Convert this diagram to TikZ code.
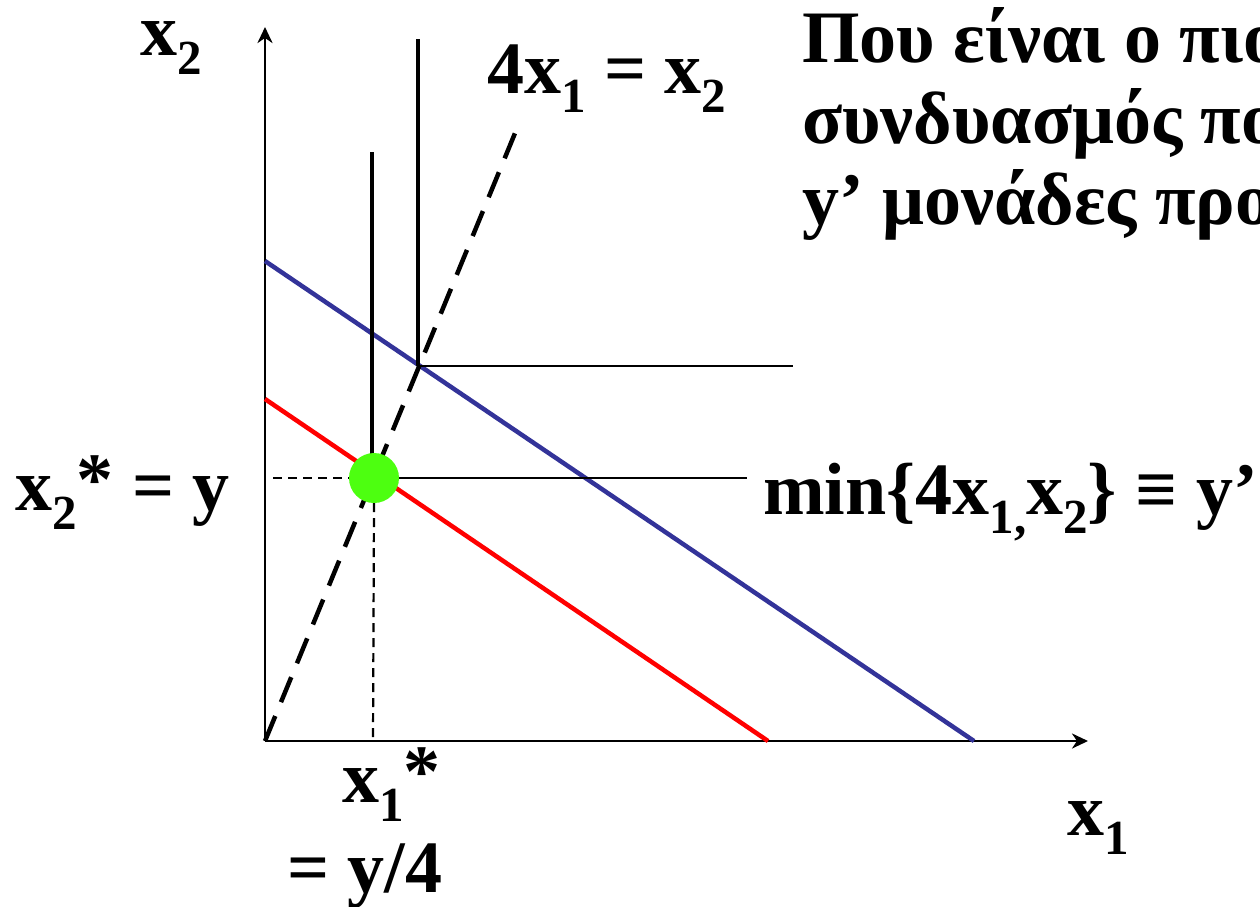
\documentclass[tikz,border=0pt]{standalone}
\usepackage{fontspec}
\setmainfont{Liberation Serif}
\usetikzlibrary{arrows.meta}
\definecolor{dotgreen}{RGB}{77,255,16}
\definecolor{isoblue}{RGB}{51,51,153}
\newcommand\sbs[1]{\raisebox{-0.26em}{\fontsize{49}{49}\selectfont #1}}
\newcommand\myast{\raisebox{0.08em}{*}}
\begin{document}
\begin{tikzpicture}[x=1pt,y=-1pt,
  lbl/.style={inner sep=0pt, anchor=base west, font=\bfseries\fontsize{74}{84}\selectfont},
  axis/.style={line width=2.8pt, -{Stealth[length=16pt,width=15pt,inset=5pt]}},
  isoline/.style={line width=4.5pt},
  thickv/.style={line width=4.5pt},
  thinh/.style={line width=2.2pt},
  raydash/.style={line width=4.5pt, dash pattern=on 27pt off 15pt},
  guide/.style={line width=2.2pt, dash pattern=on 9pt off 6pt},
  optdot/.style={circle, fill=dotgreen, minimum size=50pt, inner sep=0pt}]
\useasboundingbox (0,0) rectangle (1260,906);
% coordinates
\coordinate (O) at (265,741);
\coordinate (ytop) at (265,27);
\coordinate (xend) at (1088,741);
\coordinate (b0) at (265,261);
\coordinate (b1) at (974,741);
\coordinate (r0) at (265,399);
\coordinate (r1) at (768,741);
\coordinate (d1) at (520,121);
\coordinate (uc) at (418,366);
\coordinate (ut) at (418,39);
\coordinate (ur) at (793,366);
\coordinate (lc) at (372,478);
\coordinate (lt) at (372,152);
\coordinate (lr) at (747,478);
\coordinate (gl) at (273,478);
\coordinate (gb) at (373,741);
% axes
\draw[axis] (O) -- (ytop);
\draw[axis] (O) -- (xend);
% budget lines
\draw[isoline, red] (r0) -- (r1);
\draw[isoline, isoblue] (b0) -- (b1);
% ray
\draw[raydash] (O) -- (d1);
% isoquants
\draw[thickv] (ut) -- (uc);
\draw[thinh] (uc) -- (ur);
\draw[thickv] (lt) -- (lc);
\draw[thinh] (lc) -- (lr);
% optimum
\node[optdot] (dot) at (374,478) {};
\draw[guide] (gl) -- (dot.west);
\draw[guide] (dot.south) -- (gb);
% labels
\node[lbl] (lx2) at (140,55) {x\sbs{2}};
\node[lbl] (lray) at (487,93) {4x\sbs{1} = x\sbs{2}};
\node[lbl] (lx2s) at (15,510) {x\sbs{2}\myast{} = y};
\node[lbl] (lmin) at (763,514) {min\{4x\sbs{1,}x\sbs{2}\} ≡ y’};
\node[lbl] (lx1s) at (342,802) {x\sbs{1}\myast};
\node[lbl] (ly4) at (287,892) {= y/4};
\node[lbl] (lx1) at (1067,835) {x\sbs{1}};
\node[lbl] (q1) at (802,62) {Που είναι ο πιο};
\node[lbl] (q2) at (802,143) {συνδυασμός πο};
\node[lbl] (q3) at (802,224) {y’ μονάδες προ};
\end{tikzpicture}
\end{document}
